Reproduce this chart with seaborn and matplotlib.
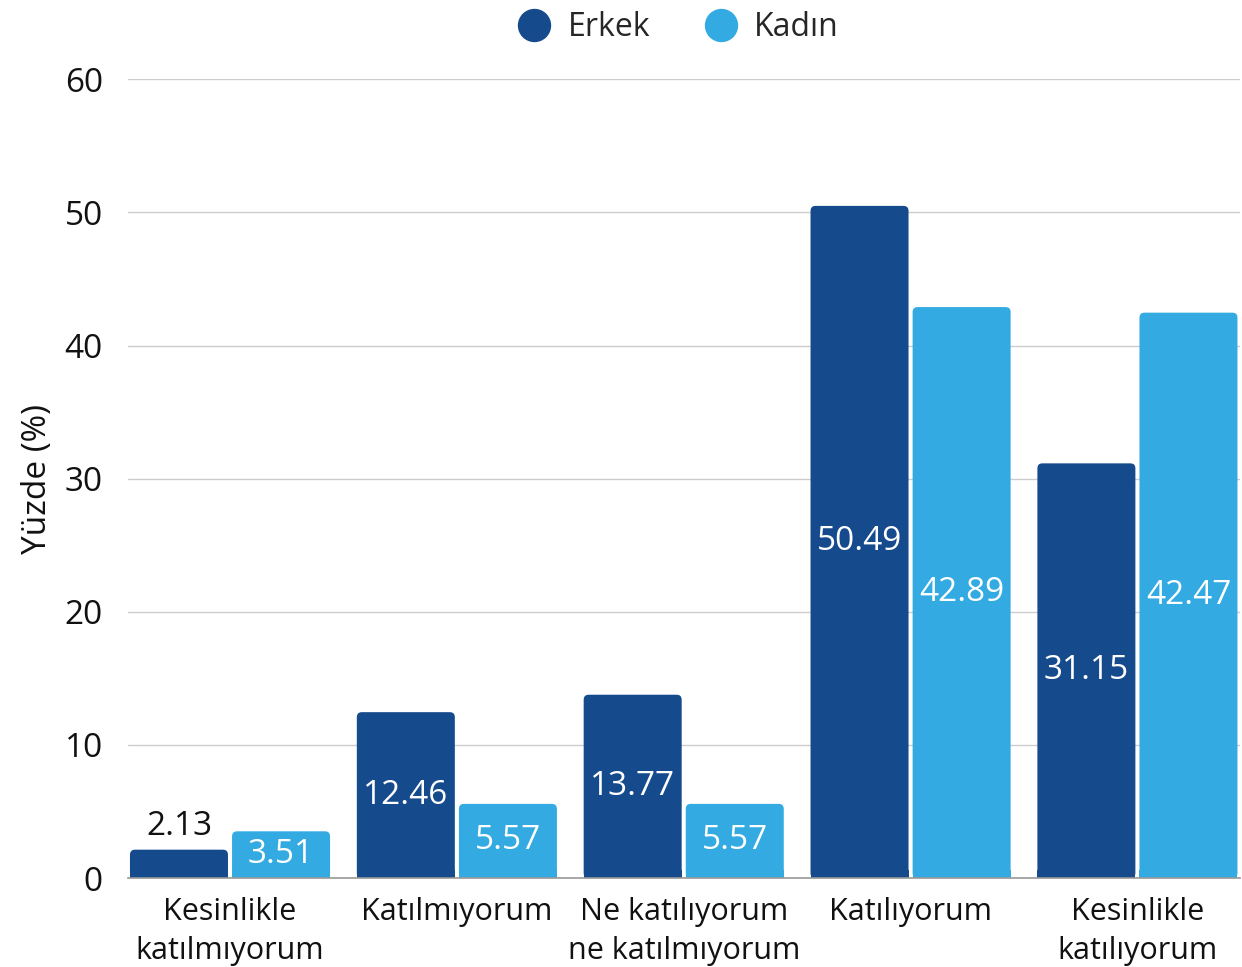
import matplotlib
matplotlib.use("Agg")
import matplotlib.pyplot as plt
import seaborn as sns
import pandas as pd
from matplotlib.patches import FancyBboxPatch

categories = ["Kesinlikle\nkatılmıyorum", "Katılmıyorum", "Ne katılıyorum\nne katılmıyorum",
              "Katılıyorum", "Kesinlikle\nkatılıyorum"]
erkek = [2.13, 12.46, 13.77, 50.49, 31.15]
kadin = [3.51, 5.57, 5.57, 42.89, 42.47]
series = ["Erkek", "Kadın"]
yticks = [0, 10, 20, 30, 40, 50, 60]

colors = {"Erkek": "#154A8C", "Kadın": "#33AAE1"}

df = pd.DataFrame({
    "cat": categories * 2,
    "val": erkek + kadin,
    "grp": ["Erkek"] * 5 + ["Kadın"] * 5,
})

sns.set_theme(style="white")
plt.rcParams['font.family'] = ['Open Sans', 'DejaVu Sans']

fig = plt.figure(figsize=(12.42, 9.67), dpi=100)
ax = fig.add_axes([0.103, 0.092, 0.895, 0.826])

sns.barplot(data=df, x="cat", y="val", hue="grp", palette=colors, width=0.9, gap=0.04,
            order=categories, hue_order=series, ax=ax, legend=False, saturation=1)

ax.set_xlim(-0.45, 4.45)
ax.set_ylim(0, 60)

# labels
for cont, vals in zip(ax.containers, [erkek, kadin]):
    for bar, v in zip(cont, vals):
        cx = bar.get_x() + bar.get_width() / 2
        h = bar.get_height()
        if h < 3:
            ax.text(cx, h + 0.5, f"{v:.2f}", ha="center", va="bottom", fontsize=24, color="#111111")
        else:
            ax.text(cx, h / 2, f"{v:.2f}", ha="center", va="center", fontsize=24, color="white")

# rounded tops (radius ~5 px)
px_x = 4.9 / (0.895 * 1242)
px_y = 60 / (0.826 * 967)
for cont in ax.containers:
    for bar in cont:
        x, w, h = bar.get_x(), bar.get_width(), bar.get_height()
        fc = bar.get_facecolor()
        bar.set_visible(False)
        p = FancyBboxPatch((x, 0), w, h, boxstyle=f"round,pad=0,rounding_size={5 * px_x}",
                           mutation_aspect=px_y / px_x,
                           facecolor=fc, edgecolor="none", zorder=2)
        ax.add_patch(p)
        ax.add_patch(plt.Rectangle((x, 0), w, min(h, 0.6), facecolor=fc, edgecolor="none", zorder=2))

ax.set_yticks(yticks)
ax.set_yticklabels([str(t) for t in yticks], fontsize=24, color="#111111")
ax.tick_params(axis="y", length=0, pad=18)
ax.tick_params(axis="x", length=0, pad=14, labelsize=22, labelcolor="#111111")
for lbl in ax.get_xticklabels():
    lbl.set_linespacing(1.35)
ax.yaxis.grid(True, color="#cccccc", linewidth=1)
ax.set_axisbelow(True)
for s in ["top", "right", "left"]:
    ax.spines[s].set_visible(False)
ax.spines["bottom"].set_color("#999999")
ax.spines["bottom"].set_linewidth(1.2)
ax.spines["bottom"].set_zorder(3)
ax.set_xlabel("")
ax.set_ylabel("Yüzde (%)", fontsize=24, color="#111111", labelpad=8)

handles = [plt.Line2D([], [], marker="o", linestyle="none", markersize=23,
                      markerfacecolor=colors[s], markeredgecolor=colors[s]) for s in series]
fig.legend(handles, series, loc="upper center", bbox_to_anchor=(0.54, 1.018), ncol=2,
           frameon=False, fontsize=23, handletextpad=0.05, columnspacing=1.2)

fig.savefig("out.png", dpi=100, facecolor="white")
